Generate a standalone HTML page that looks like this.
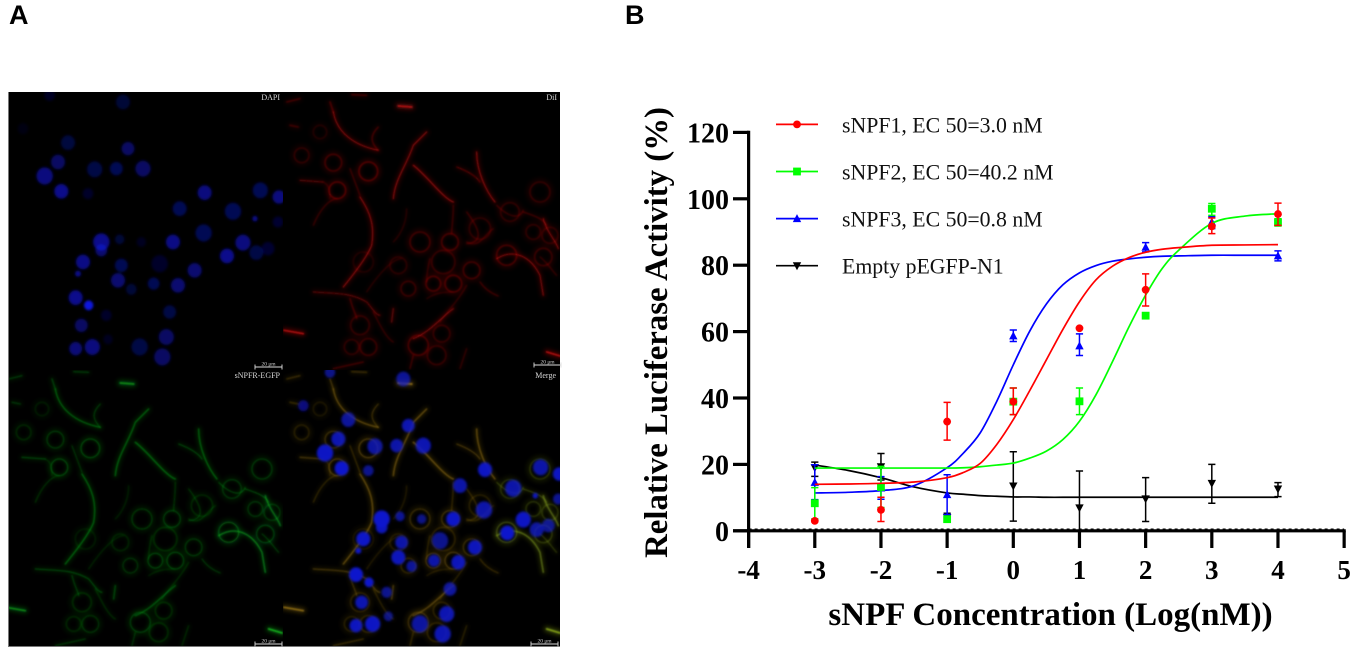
<!DOCTYPE html>
<html lang="en">
<head>
<meta charset="utf-8">
<title>sNPF figure</title>
<style>
html,body{margin:0;padding:0;background:#fff;width:1358px;height:655px;overflow:hidden}
svg{display:block;position:absolute;left:0;top:0}
text{font-family:"Liberation Serif",serif}
.panel-letter{font-family:"Liberation Sans",sans-serif;font-weight:700;font-size:27px;fill:#000}
.tick{font-weight:700;fill:#000}
.micro{fill:#d8d8d8;font-size:8px}
.legend{font-size:21.8px;fill:#111}
</style>
</head>
<body>
<svg id="fig" xmlns="http://www.w3.org/2000/svg" width="1358" height="655" viewBox="0 0 1358 655">
  <defs>
    <filter id="blur-nucleus" x="-30%" y="-30%" width="160%" height="160%"><feGaussianBlur stdDeviation="4"/></filter>
    <filter id="blur-membrane" x="-10%" y="-10%" width="120%" height="120%"><feGaussianBlur stdDeviation="2.6"/></filter>
    <filter id="blur-glow" x="-10%" y="-10%" width="120%" height="120%"><feGaussianBlur stdDeviation="7"/></filter>
    <clipPath id="clip-dapi"><rect x="8" y="92" width="275" height="278"/></clipPath>
    <clipPath id="clip-dil"><rect x="283" y="92" width="277" height="278"/></clipPath>
    <clipPath id="clip-egfp"><rect x="8" y="370" width="275" height="277"/></clipPath>
    <clipPath id="clip-merge"><rect x="283" y="370" width="277" height="277"/></clipPath>
  </defs>
  <text class="panel-letter" x="9" y="24">A</text>
  <text class="panel-letter" x="625" y="24">B</text>
  <rect x="8" y="92" width="552" height="555" fill="#000"/>
  <g id="micro"></g>
  <g>
    <text class="micro" x="280" y="100" text-anchor="end">DAPI</text>
    <text class="micro" x="557" y="100" text-anchor="end">DiI</text>
    <text class="micro" x="280" y="378" text-anchor="end">sNPFR-EGFP</text>
    <text class="micro" x="556" y="378" text-anchor="end">Merge</text>
  </g>
  <g id="scalebars"></g>
  <g id="chart"></g>
</svg>
<script>
/* ---------- chart data ---------- */
var doseLogs = [-3, -2, -1, 0, 1, 2, 3, 4];
var sNPF1Means = [3, 6.3, 32.9, 38.9, 61, 72.6, 91.7, 95.4];
var sNPF1Lows  = [null, 2.8, 27.3, 35, null, 67.7, 89.5, 92];
var sNPF1Highs = [null, 10.1, 38.7, 43, null, 77.4, 94.2, 98.7];
var sNPF2Means = [8.3, 13.2, 3.5, 38.9, 39, 64.8, 97, 92.9];
var sNPF2Lows  = [3.6, 7, null, 35, 35, null, 95, 91.8];
var sNPF2Highs = [13, 19.4, null, 43, 43, null, 98.6, 94];
var sNPF3Means = [14.6, 12.9, 10.9, 58.7, 55.7, 85.4, 93, 82.8];
var sNPF3Lows  = [9.4, 9.5, 4.9, 57, 52.8, 84, 91, 81.3];
var sNPF3Highs = [19.9, 16.3, 16.9, 60.5, 59.3, 86.8, 94.6, 84.3];
var emptyMeans = [19, 19.3, 4, 13.5, 6.9, 9.6, 14.3, 12.6];
var emptyLows  = [16.4, 15.3, 2.7, 2.9, 0, 2.8, 8.3, 10.3];
var emptyHighs = [20.7, 23.3, 5.3, 23.8, 18, 16, 20, 14.5];

var curveLogs = [-3, -2.5, -2, -1.5, -1, -0.75, -0.5, -0.25, 0, 0.25, 0.5, 0.75, 1, 1.25, 1.5, 1.75, 2, 2.25, 2.5, 3, 3.5, 4];
var sNPF1Curve = [14, 14.1, 14.3, 14.7, 16, 17.6, 20.3, 26, 33.5, 42.3, 51.5, 60.7, 69, 75.6, 79.7, 82.3, 83.9, 84.8, 85.3, 86, 86.1, 86.2];
var sNPF2Curve = [18.9, 18.9, 18.9, 18.9, 18.9, 19, 19.3, 19.8, 20.4, 21.9, 24, 27.5, 33, 41, 51, 61.5, 71, 79, 84.5, 92.6, 94.8, 95.5];
var sNPF3Curve = [11.4, 11.6, 12.1, 13.6, 19, 23.5, 29.5, 39, 50, 60.2, 68.3, 74.1, 77.7, 79.9, 81.2, 81.9, 82.4, 82.7, 82.8, 83, 83, 83];
var emptyCurve = [19.8, 18.2, 16, 13.2, 11.4, 11, 10.6, 10.4, 10.2, 10.2, 10.1, 10.1, 10.1, 10.1, 10.1, 10.1, 10.1, 10.1, 10.1, 10.1, 10.1, 10.1];

var xTickValues = [-4, -3, -2, -1, 0, 1, 2, 3, 4, 5];
var yTickValues = [0, 20, 40, 60, 80, 100, 120];

var seriesNames = ['empty-pegfp', 'snpf3', 'snpf2', 'snpf1'];
var seriesLabels = ['Empty pEGFP-N1', 'sNPF3, EC 50=0.8 nM', 'sNPF2, EC 50=40.2 nM', 'sNPF1, EC 50=3.0 nM'];
var seriesColors = ['#000000', '#0000ff', '#00ff00', '#ff0000'];
var seriesMarkers = ['down', 'up', 'square', 'circle'];
var seriesMeans = [emptyMeans, sNPF3Means, sNPF2Means, sNPF1Means];
var seriesLows = [emptyLows, sNPF3Lows, sNPF2Lows, sNPF1Lows];
var seriesHighs = [emptyHighs, sNPF3Highs, sNPF2Highs, sNPF1Highs];
var seriesCurves = [emptyCurve, sNPF3Curve, sNPF2Curve, sNPF1Curve];

/* ---------- micrograph shapes (zoomed-crop coordinates) ---------- */
var nuclei = [
 [370,50,24,.4],[150,30,18,.25],[70,130,18,.12],[205,172,24,.45],[385,190,22,.7],[175,230,24,.7],[285,252,26,.5],
 [350,250,22,.6],[430,250,26,.7],[135,272,28,.9],[185,318,24,1],[265,325,18,.3],[615,322,24,.9],[782,315,26,.6],
 [838,335,22,.9],[540,370,24,.6],[700,378,28,.6],[766,400,9,1],[612,443,28,.6],[520,470,24,.95],[305,470,28,1],
 [305,495,20,.8],[360,462,16,.4],[425,470,16,.22],[730,472,26,.9],[682,512,24,1],[770,502,24,.5],[805,490,22,.35],
 [250,530,24,.95],[235,565,10,1],[365,540,22,.6],[480,535,28,.3],[585,555,24,.8],[355,585,24,.8],[462,595,20,.6],
 [535,600,24,.8],[395,612,18,.4],[228,637,24,1],[267,660,16,1.6],[320,690,18,.3],[510,680,22,.5],[245,720,22,.7],
 [325,762,16,.22],[500,755,26,.7],[228,790,22,.85],[278,785,26,.9],[420,785,28,.5],[488,815,28,.7],[835,410,18,.35]
];
var rings = [
 [172,315,25,.9],[265,258,28,.9],[160,232,25,.7],[65,210,22,.5],[120,140,20,.35],[780,320,30,.55],[420,470,30,.7],
 [510,470,25,.75],[490,530,35,.55],[460,595,22,.8],[520,595,25,.8],[575,555,25,.7],[240,720,28,.55],[415,780,30,.75],
 [485,745,25,.55],[470,810,28,.55],[265,785,25,.6],[215,785,22,.5],[355,540,25,.45],[385,610,22,.6],[600,430,32,.5],
 [680,510,30,.75],[690,380,28,.5],[790,515,26,.6],[760,440,22,.5],[810,450,24,.5],[250,530,30,.35]
];
var fibres = [
 ['M160 80C170 140 220 180 295 195',1,4],['M295 195C270 170 270 150 295 125',.7,3.2],
 ['M240 335C270 380 285 420 275 480C260 520 210 580 190 605',1,4.4],['M100 420C120 370 150 340 172 340',.7,2.4],
 ['M60 285L130 290',.7,4],['M340 340C345 280 380 240 400 180L440 140',1,4.4],['M400 240C440 270 490 340 520 350',1,4.8],
 ['M590 200C590 260 620 320 645 350',1,4.4],['M530 245C570 260 590 275 600 290',.8,3.2],['M650 360C690 400 720 400 730 375',.7,2.4],
 ['M650 520C700 490 750 510 780 570L790 630',1,4],['M100 620C160 625 210 620 260 650C285 680 290 690 300 690',.7,4],
 ['M260 620C300 560 340 520 365 520',.5,2.4],['M600 590C620 620 650 630 655 632',.6,3.2],['M340 670L335 710',.7,4.8],
 ['M400 760C450 740 480 700 520 670',.8,4.8],['M12 735L70 745',1.6,5],['M800 800L840 812',1.6,5],['M355 62L395 65',1.5,6],
 ['M20 50L60 40',.6,4],['M215 28L260 30',.6,4],['M30 120L55 125',.5,4.8],['M150 50L160 80',.6,4.8],
 ['M790 400C800 440 830 470 835 490',.9,4.4],['M560 380C590 420 620 470 560 475',.6,3.2],['M780 515C800 530 820 560 830 570',.5,3.2],
 ['M130 290C150 300 150 320 150 340',.5,2.4],['M210 250L240 330',.6,3.2],['M440 640C470 620 500 620 520 620',.5,2.4],
 ['M280 680C300 720 320 760 340 770',.5,3.2],['M340 470C370 440 380 400 380 370',.5,2.4],['M520 360C520 400 515 430 515 445',.6,3.2],
 ['M450 520C440 560 440 580 440 590',.5,3.2],['M560 600C540 640 500 680 480 710',.5,3.2],['M560 470C600 490 610 450 640 430',.5,3.2],
 ['M730 380C760 390 790 400 800 420',.6,3.2],['M250 830L160 850',.7,3.2],['M390 850L400 810',.6,3.2],['M540 850L560 790',.5,3.2],
 ['M210 640C220 680 230 690 230 700',.6,4]
];
var microPanels = [
 {name:'dapi-panel', clip:'clip-dapi', ox:25, oy:20, px:8, py:92, showNuclei:true, nucleusColor:'#1018e0', nucleusGain:.62, membrane:null, membraneRight:null, gain:0},
 {name:'dil-panel', clip:'clip-dil', ox:9, oy:20, px:283, py:92, showNuclei:false, membrane:'#c81010', membraneRight:'#c81010', gain:.6},
 {name:'egfp-panel', clip:'clip-egfp', ox:9, oy:20, px:5, py:369, showNuclei:false, membrane:'#0c9a16', membraneRight:'#12c820', gain:.6},
 {name:'merge-panel', clip:'clip-merge', ox:9, oy:20, px:283, py:369, showNuclei:true, nucleusColor:'#1018cc', nucleusGain:1, membrane:'#a07a14', membraneRight:'#98b81c', gain:.6}
];

var NS = 'http://www.w3.org/2000/svg';
function mk(parent, tag, attrs, txt) {
  var e = document.createElementNS(NS, tag);
  for (var k in attrs) e.setAttribute(k, attrs[k]);
  if (txt !== undefined) e.textContent = txt;
  parent.appendChild(e);
  return e;
}

/* ---------- micrographs ---------- */
(function () {
  var host = document.getElementById('micro');
  microPanels.forEach(function (p) {
    var outer = mk(host, 'g', {'clip-path': 'url(#' + p.clip + ')'});
    
    
    var g = mk(outer, 'g', {transform: 'translate(' + p.px + ' ' + p.py + ') scale(0.3333) translate(' + (-p.ox) + ' ' + (-p.oy) + ')'});
    if (p.membrane) {
      var colorAt = function (x) { return x > 620 ? p.membraneRight : p.membrane; };
      var glow = mk(g, 'g', {filter: 'url(#blur-glow)', fill: 'none', 'stroke-linecap': 'round'});
      rings.forEach(function (r) {
        mk(glow, 'circle', {cx: r[0], cy: r[1], r: r[2] + 3, stroke: colorAt(r[0]), 'stroke-opacity': r[3] * 0.4 * p.gain, 'stroke-width': 12});
      });
      fibres.forEach(function (f) {
        var fx = parseFloat(f[0].slice(1));
        mk(glow, 'path', {d: f[0], stroke: colorAt(fx), 'stroke-opacity': f[1] * 0.4 * p.gain, 'stroke-width': f[2] * 3});
      });
      var m = mk(g, 'g', {filter: 'url(#blur-membrane)', fill: 'none', 'stroke-linecap': 'round'});
      rings.forEach(function (r) {
        mk(m, 'circle', {cx: r[0], cy: r[1], r: r[2], stroke: colorAt(r[0]), 'stroke-opacity': r[3] * 0.7 * p.gain, 'stroke-width': 4});
      });
      fibres.forEach(function (f) {
        var fx = parseFloat(f[0].slice(1));
        mk(m, 'path', {d: f[0], stroke: colorAt(fx), 'stroke-opacity': Math.min(1, f[1] * 0.85 * p.gain), 'stroke-width': f[2]});
      });
    }
    if (p.showNuclei) {
      var n = mk(g, 'g', {filter: 'url(#blur-nucleus)', fill: p.nucleusColor});
      nuclei.forEach(function (d) {
        var op = p.name === 'merge-panel' ? Math.min(1, d[3] * 0.45 + 0.55) : Math.min(1, d[3] * p.nucleusGain);
        mk(n, 'ellipse', {cx: d[0], cy: d[1], rx: d[2] * 0.88, ry: d[2] * 0.92, 'fill-opacity': op});
      });
    }
  });
  var edge = mk(host, 'path', {d: 'M8.5 92V646.5H560', fill: 'none', stroke: '#777', 'stroke-width': 1});
  
  
  var bars = document.getElementById('scalebars');
  [[255,367],[534,365],[255,644],[531,644]].forEach(function (b) {
    var sb = mk(bars, 'path', {d: 'M' + b[0] + ' ' + b[1] + 'h27M' + b[0] + ' ' + (b[1]-2.5) + 'v5M' + (b[0]+27) + ' ' + (b[1]-2.5) + 'v5', stroke: '#ddd', 'stroke-width': 0.9, fill: 'none'});
    
    
    var st = mk(bars, 'text', {x: b[0] + 13.5, y: b[1] - 1.5, 'text-anchor': 'middle', 'font-size': 5.5, fill: '#ccc'}, '20 μm');
    
    
  });
})();

/* ---------- chart ---------- */
var X0 = 1013.3, XU = 66.17, Y0 = 530.8, YU = 3.32;
function sx(v) { return X0 + v * XU; }
function sy(v) { return Y0 - v * YU; }

function smoothPath(xs, ys) {
  var pts = xs.map(function (v, i) { return [sx(v), sy(ys[i])]; });
  var d = 'M' + pts[0][0].toFixed(2) + ' ' + pts[0][1].toFixed(2);
  for (var i = 0; i < pts.length - 1; i++) {
    var p0 = pts[Math.max(i - 1, 0)], p1 = pts[i], p2 = pts[i + 1], p3 = pts[Math.min(i + 2, pts.length - 1)];
    var c1x = p1[0] + (p2[0] - p0[0]) / 6, c1y = p1[1] + (p2[1] - p0[1]) / 6;
    var c2x = p2[0] - (p3[0] - p1[0]) / 6, c2y = p2[1] - (p3[1] - p1[1]) / 6;
    d += 'C' + c1x.toFixed(2) + ' ' + c1y.toFixed(2) + ' ' + c2x.toFixed(2) + ' ' + c2y.toFixed(2) + ' ' + p2[0].toFixed(2) + ' ' + p2[1].toFixed(2);
  }
  return d;
}

function marker(parent, type, cx, cy, color) {
  var el;
  if (type === 'circle') el = mk(parent, 'circle', {cx: cx, cy: cy, r: 3.9, fill: color});
  else if (type === 'square') el = mk(parent, 'rect', {x: cx - 3.9, y: cy - 3.9, width: 7.8, height: 7.8, fill: color});
  else if (type === 'up') el = mk(parent, 'path', {d: 'M' + cx + ' ' + (cy - 4.5) + 'l4.2 8h-8.4z', fill: color});
  else el = mk(parent, 'path', {d: 'M' + cx + ' ' + (cy + 4.5) + 'l4.2 -8h-8.4z', fill: color});
  return el;
}

(function () {
  var chart = document.getElementById('chart');

  /* series */
  seriesNames.forEach(function (name, s) {
    var g = mk(chart, 'g', {});
    
    
    var c = mk(g, 'path', {d: smoothPath(curveLogs, seriesCurves[s]), fill: 'none', stroke: seriesColors[s], 'stroke-width': 1.7});
    
    
    doseLogs.forEach(function (v, i) {
      var x = sx(v);
      var lo = seriesLows[s][i], hi = seriesHighs[s][i];
      if (lo !== null && hi !== null) {
        var eb = mk(g, 'path', {
          d: 'M' + x + ' ' + sy(lo) + 'V' + sy(hi) + 'M' + (x - 3.6) + ' ' + sy(lo) + 'h7.2M' + (x - 3.6) + ' ' + sy(hi) + 'h7.2',
          stroke: seriesColors[s], 'stroke-width': 1.5, fill: 'none'
        });
        
        
      }
      var m = marker(g, seriesMarkers[s], x, sy(seriesMeans[s][i]), seriesColors[s]);
      
      
    });
  });

  /* axes */
  var axisW = 3.2;
  var yAxis = mk(chart, 'line', {x1: sx(-4), y1: sy(120) - 1.6, x2: sx(-4), y2: 548, stroke: '#000', 'stroke-width': axisW});
  
  
  var xAxis = mk(chart, 'line', {x1: 733, y1: sy(0), x2: sx(5) + 1.6, y2: sy(0), stroke: '#000', 'stroke-width': axisW});
  
  
  var dotted = mk(chart, 'line', {x1: sx(-4), y1: sy(0) - 1.8, x2: sx(5), y2: sy(0) - 1.8, stroke: '#000', 'stroke-width': 1, 'stroke-dasharray': '3 3'});
  
  

  xTickValues.forEach(function (v) {
    var t = mk(chart, 'line', {x1: sx(v), y1: sy(0), x2: sx(v), y2: 548, stroke: '#000', 'stroke-width': axisW});
    
    
    var l = mk(chart, 'text', {x: sx(v), y: 579, 'text-anchor': 'middle', 'font-size': 27, class: 'tick'}, String(v));
    
    
  });
  yTickValues.forEach(function (v) {
    var t = mk(chart, 'line', {x1: 733, y1: sy(v), x2: sx(-4), y2: sy(v), stroke: '#000', 'stroke-width': axisW});
    
    
    var l = mk(chart, 'text', {x: 729, y: sy(v) + 10, 'text-anchor': 'end', 'font-size': 28, class: 'tick'}, String(v));
    
    
  });

  var xt = mk(chart, 'text', {x: 1050.5, y: 625, 'text-anchor': 'middle', 'font-size': 33, class: 'tick'}, 'sNPF Concentration (Log(nM))');
  
  
  var yt = mk(chart, 'text', {x: 0, y: 0, transform: 'translate(667 332.5) rotate(-90)', 'text-anchor': 'middle', 'font-size': 32.8, class: 'tick'}, 'Relative Luciferase Activity (%)');
  
  

  /* legend */
  var legendRows = [3, 2, 1, 0];
  var legend = mk(chart, 'g', {});
  
  
  legendRows.forEach(function (s, row) {
    var y = 124.4 + row * 47.1;
    var entry = mk(legend, 'g', {});
    
    
    mk(entry, 'line', {x1: 776, y1: y, x2: 818, y2: y, stroke: seriesColors[s], 'stroke-width': 1.7});
    marker(entry, seriesMarkers[s], 797, y, seriesColors[s]);
    mk(entry, 'text', {x: 842, y: y + 8, class: 'legend'}, seriesLabels[s]);
  });
})();
</script>
</body>
</html>
